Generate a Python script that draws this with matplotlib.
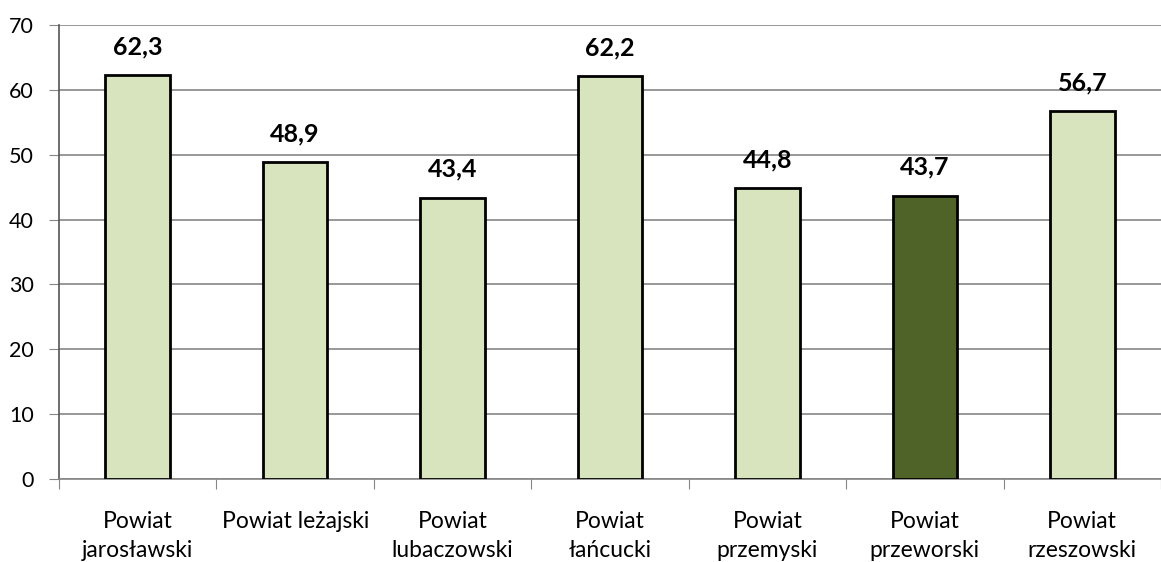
import numpy as np
import matplotlib.pyplot as plt

plt.rcParams["font.family"] = ["Lato", "DejaVu Sans"]

categories = ["Powiat\njarosławski", "Powiat leżajski", "Powiat\nlubaczowski",
              "Powiat\nłańcucki", "Powiat\nprzemyski", "Powiat\nprzeworski",
              "Powiat\nrzeszowski"]
values = [62.3, 48.9, 43.4, 62.2, 44.8, 43.7, 56.7]
labels = ["62,3", "48,9", "43,4", "62,2", "44,8", "43,7", "56,7"]
highlight = "Powiat\nprzeworski"

light = "#D7E4BD"
dark = "#4F6228"
colors = [dark if c == highlight else light for c in categories]

fig = plt.figure(figsize=(11.61, 5.62), dpi=100)
ax = fig.add_axes([0.0508, 0.1477, 0.9492, 0.8078])

x = np.arange(len(categories))
ax.bar(x, values, width=0.41, color=colors, edgecolor="black", linewidth=2, zorder=3)

for xi, v, lab in zip(x, values, labels):
    ax.annotate(lab, (xi, v), xytext=(0, 12), textcoords="offset points",
                ha="center", va="bottom", fontsize=18, fontweight="bold")

ax.set_xlim(-0.5, len(categories) - 0.5)
ax.set_ylim(0, 70)
ax.set_yticks(range(0, 71, 10))
ax.yaxis.grid(True, color="#868686", linewidth=1.2, zorder=0)

ax.set_xticks(np.arange(-0.5, len(categories), 1.0))
ax.set_xticklabels([])
ax.set_xticks(x, minor=True)
ax.set_xticklabels(categories, minor=True, fontsize=16.5, linespacing=1.45)
ax.tick_params(axis="x", which="major", length=7, color="#868686", direction="out")
ax.tick_params(axis="x", which="minor", length=0, pad=23)
ax.tick_params(axis="y", length=7, color="#868686", labelsize=15.5, pad=11)

for s in ["top", "right"]:
    ax.spines[s].set_visible(False)
ax.spines["left"].set_color("#555555")
ax.spines["bottom"].set_color("#868686")
ax.spines["left"].set_linewidth(1.2)
ax.spines["bottom"].set_linewidth(1.2)

fig.savefig("out.png", dpi=100)
